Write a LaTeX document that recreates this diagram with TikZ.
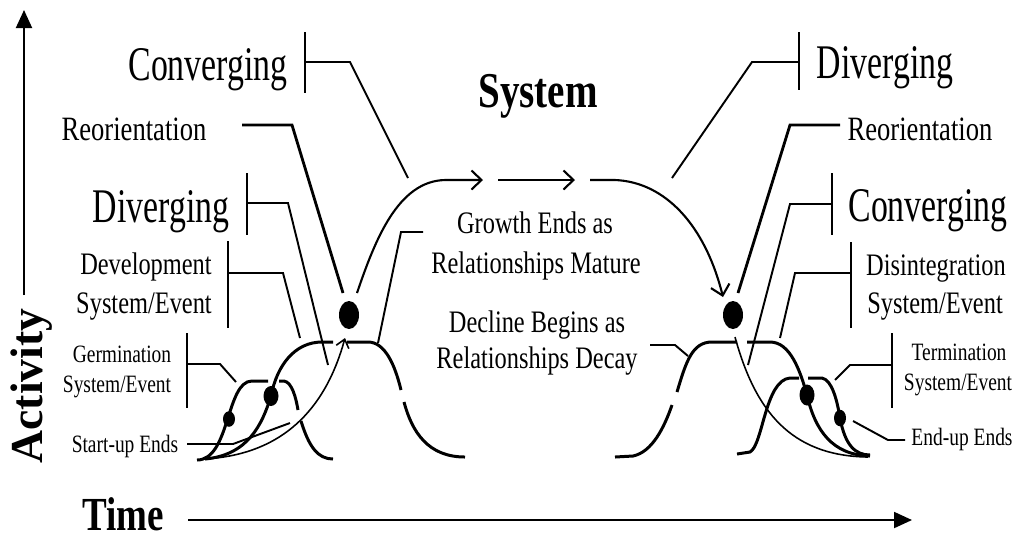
\documentclass[tikz,border=0pt]{standalone}
\usepackage{fontspec}
\setmainfont{Liberation Serif}[FakeStretch=0.78]
\newfontfamily\actfont{Liberation Serif}
\newfontfamily\bigfont{Liberation Serif}[FakeStretch=0.7]
\usetikzlibrary{arrows.meta,calc,shapes.geometric}

\begin{document}
\begin{tikzpicture}[
    x=0.02cm, y=-0.02cm,
    bell/.style={line width=1.7pt},
    flow/.style={line width=1.2pt},
    thinflow/.style={line width=0.9pt},
    lead/.style={line width=1.1pt},
    heavylead/.style={line width=1.6pt},
    bar/.style={line width=1.1pt},
    axis/.style={
        line width=1.1pt,
        -{Triangle[length=0.36cm,width=0.32cm]}
    },
    barb/.style={-{Straight Barb[length=0.2cm,width=0.38cm]}},
    smallbarb/.style={-{Straight Barb[length=0.16cm,width=0.26cm]}},
    dot/.style={ellipse, fill=black, inner sep=0pt},
    bigtext/.style={font=\bigfont\fontsize{27.5}{30}\selectfont, anchor=base},
    reotext/.style={font=\fontsize{19.4}{22}\selectfont, anchor=base},
    midtext/.style={font=\fontsize{17.8}{21}\selectfont, anchor=base},
    smalltext/.style={font=\fontsize{14.2}{16}\selectfont, anchor=base},
    boldtext/.style={font=\fontsize{28.5}{32}\selectfont\bfseries, anchor=base}
]

\useasboundingbox (0,0) rectangle (1016,539);

% =========================
% axes
% =========================
\coordinate (yfoot) at (24,295);
\coordinate (ytop) at (24,10);
\coordinate (tfoot) at (188,520);
\coordinate (ttop) at (912,520);

\draw[axis] (yfoot) -- (ytop);
\draw[axis] (tfoot) -- (ttop);

\node[rotate=90, anchor=base, font=\actfont\fontsize{26}{30}\selectfont\bfseries] (activity) at (42,386) {Activity};
\node[boldtext, font=\fontsize{27}{30}\selectfont\bfseries] (time) at (123,530) {Time};

% =========================
% dots
% =========================
\node[dot, minimum width=0.4cm, minimum height=0.56cm] (dotL) at (349,315) {};
\node[dot, minimum width=0.3cm, minimum height=0.4cm] (devdot) at (271,396) {};
\node[dot, minimum width=0.24cm, minimum height=0.31cm] (germdot) at (229,419) {};

\node[dot, minimum width=0.4cm, minimum height=0.56cm] (dotR) at (733,315) {};
\node[dot, minimum width=0.3cm, minimum height=0.42cm] (disdot) at (807,395) {};
\node[dot, minimum width=0.24cm, minimum height=0.33cm] (termdot) at (840,418) {};

% =========================
% left bells
% =========================
% germination
\draw[bell] (197,460) .. controls (230,460) and (226,381) .. (252,381) -- (268,381);
\draw[bell] (279,381) -- (284,381) .. controls (292,382) and (296,398) .. (298,410);
\draw[bell] (301,421) .. controls (309,447) and (318,459) .. (333,459);

% development
\draw[bell] (205,459) .. controls (248,455) and (262,425) .. (devdot.center)
    .. controls (277,365) and (295,342) .. (322,342) -- (333,342);
\draw[bell] (347,342) -- (368,342) .. controls (385,342) and (395,365) .. (401,390);
\draw[bell] (404,402) .. controls (412,432) and (428,457) .. (465,457);

% rise into the system
\draw[thinflow, smallbarb] (203,459) .. controls (290,455) and (328,400) .. ($(dotL)+(-4,23)$);

% =========================
% right bells
% =========================
% disintegration
\draw[bell] (615,457) -- (633,456) .. controls (652,452) and (664,428) .. (672,405);
\draw[bell] (677,392) .. controls (686,362) and (692,342) .. (712,342) -- (737,342);
\draw[bell] (747,342) -- (770,342) .. controls (790,342) and (800,370) .. (disdot.center)
    .. controls (815,430) and (832,455) .. (870,456);

% termination
\draw[bell] (737,454) -- (750,452) .. controls (763,445) and (765,380) .. (790,378) -- (799,378);
\draw[bell] (808,378) -- (822,378) .. controls (832,380) and (837,400) .. (termdot.center)
    .. controls (845,445) and (855,455) .. (870,455);

% fall out of the system
\draw[thinflow] ($(dotR)+(2,22)$) .. controls (755,410) and (790,456) .. (868,457);

% =========================
% system arc
% =========================
\coordinate (midA) at (498,180);
\coordinate (midB) at (575,180);

\draw[flow, barb] ($(dotL)+(8,-22)$) .. controls (375,240) and (398,181) .. (445,180) -- (483,180);
\draw[flow, barb] (midA) -- (midB);
\draw[flow, barb] (590,180) -- (615,180) .. controls (665,182) and (705,225) .. ($(dotR)+(-10,-18)$);

% =========================
% labels
% =========================
\node[boldtext] (system) at (538,107) {System};

\node[bigtext] (convL) at (208,80) {Converging};
\node[reotext] (reoL) at (134,140) {Reorientation};
\node[bigtext] (divL) at (161,222) {Diverging};
\node[midtext] (devA) at (146,274) {Development};
\node[midtext] (devB) at (144,313) {System/Event};
\node[smalltext] (germA) at (122,362) {Germination};
\node[smalltext] (germB) at (117,392) {System/Event};
\node[smalltext] (startup) at (125,452) {Start-up Ends};

\node[midtext] (growA) at (535,233) {Growth Ends as};
\node[midtext] (growB) at (536,273) {Relationships Mature};
\node[midtext] (declA) at (537,332) {Decline Begins as};
\node[midtext] (declB) at (537,368) {Relationships Decay};

\node[bigtext] (divR) at (885,78) {Diverging};
\node[reotext] (reoR) at (920,140) {Reorientation};
\node[bigtext] (convR) at (928,221) {Converging};
\node[midtext] (disA) at (936,275) {Disintegration};
\node[midtext] (disB) at (935,313) {System/Event};
\node[smalltext] (termA) at (959,360) {Termination};
\node[smalltext] (termB) at (958,390) {System/Event};
\node[smalltext] (endup) at (962,445) {End-up Ends};

% =========================
% brackets and leaders
% =========================
\coordinate (convLbar) at (305,62);   \coordinate (convLtip) at (408,178);
\coordinate (reoLroot) at (242,125);  \coordinate (reoLtip) at (343,293);
\coordinate (divLbar) at (247,203);   \coordinate (divLtip) at (328,365);
\coordinate (devbar) at (228,273);    \coordinate (devtip) at (300,338);
\coordinate (germbar) at (187,364);   \coordinate (germtip) at (236,382);
\coordinate (startroot) at (187,444); \coordinate (starttip) at (290,423);
\coordinate (growroot) at (423,232);  \coordinate (growtip) at (378,343);
\coordinate (declroot) at (650,345);  \coordinate (decltip) at (688,356);

\draw[bar] (convLbar) ++(0,-30) -- ++(0,61);
\draw[lead] (convLbar) -- ++(45,0) -- (convLtip);
\draw[heavylead] (reoLroot) -- ++(50,0) -- (reoLtip);
\draw[bar] (divLbar) ++(0,-30) -- ++(0,62);
\draw[lead] (divLbar) -- ++(41,0) -- (divLtip);
\draw[bar] (devbar) ++(0,-32) -- ++(0,87);
\draw[lead] (devbar) -- ++(55,0) -- (devtip);
\draw[bar] (germbar) ++(0,-31) -- ++(0,75);
\draw[lead] (germbar) -- ++(33,0) -- (germtip);
\draw[lead] (startroot) -- ++(46,0) -- (starttip);
\draw[lead] (growroot) -- ++(-22,0) -- (growtip);
\draw[lead] (declroot) -- ++(25,0) -- (decltip);

\coordinate (divRbar) at (799,62);    \coordinate (divRtip) at (672,178);
\coordinate (reoRroot) at (840,125);  \coordinate (reoRtip) at (738,293);
\coordinate (convRbar) at (832,204);  \coordinate (convRtip) at (748,365);
\coordinate (disbar) at (851,273);    \coordinate (distip) at (780,338);
\coordinate (termbar) at (892,365);   \coordinate (termtip) at (835,380);
\coordinate (endroot) at (905,440);   \coordinate (endtip) at (853,421);

\draw[bar] (divRbar) ++(0,-30) -- ++(0,58);
\draw[lead] (divRbar) -- ++(-47,0) -- (divRtip);
\draw[heavylead] (reoRroot) -- ++(-50,0) -- (reoRtip);
\draw[bar] (convRbar) ++(0,-31) -- ++(0,62);
\draw[lead] (convRbar) -- ++(-42,0) -- (convRtip);
\draw[bar] (disbar) ++(0,-31) -- ++(0,86);
\draw[lead] (disbar) -- ++(-56,0) -- (distip);
\draw[bar] (termbar) ++(0,-32) -- ++(0,75);
\draw[lead] (termbar) -- ++(-42,0) -- (termtip);
\draw[lead] (endroot) -- ++(-17,0) -- (endtip);

\end{tikzpicture}
\end{document}
